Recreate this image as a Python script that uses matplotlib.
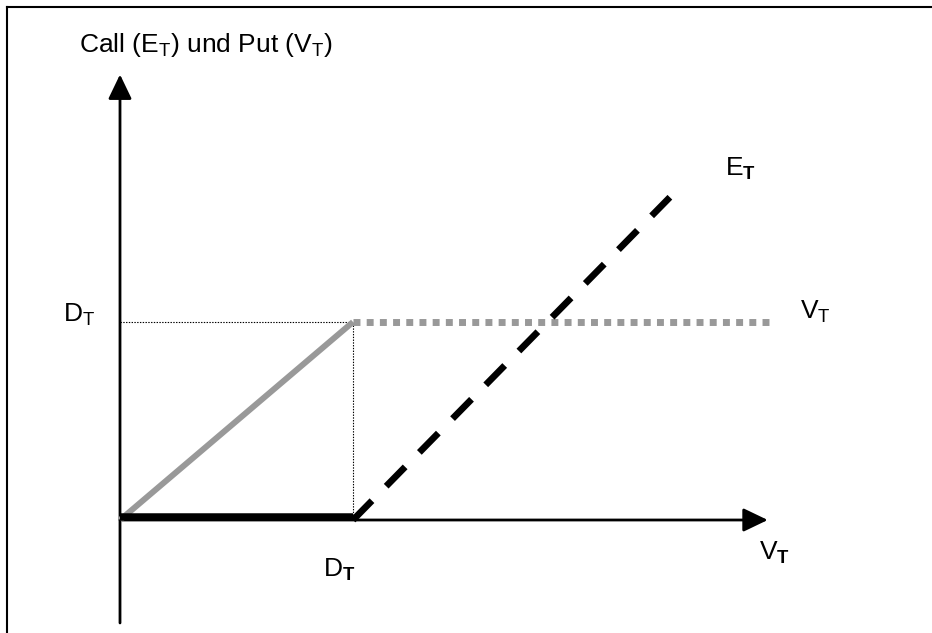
import matplotlib
matplotlib.use('Agg')
import matplotlib.pyplot as plt
from matplotlib import transforms
from matplotlib.lines import Line2D

# Both axes are measured in units of the face value D_T
STRIKE = 1.0

# Call (equity) payoff: flat part and rising part
call_flat_x = [0.0, 1.0]
call_flat_y = [0.0, 0.0]
call_rise_x = [1.0, 2.36]
call_rise_y = [0.0, 1.63]

# Put (debt) payoff: rising part and capped part
put_rise_x = [0.0, 1.0]
put_rise_y = [0.0, 1.0]
put_flat_x = [1.0, 2.80]
put_flat_y = [1.0, 1.0]

# Thin guide lines to the D_T marks
guide_x = [0.0, 1.0, 1.0]
guide_y = [1.0, 1.0, 0.0]

# Axis extents (arrow tips, lower end of the y axis)
X_AXIS_END = 2.78
Y_AXIS_END = 2.25
Y_AXIS_START = -0.52

TITLE = r'Call ($\mathrm{E}_\mathrm{T}$) und Put ($\mathrm{V}_\mathrm{T}$)'
D_LABEL_Y = r'$\mathrm{D}_\mathrm{T}$'
D_LABEL_X = r'$\mathrm{D}_\mathbf{T}$'
V_LABEL_X = r'$\mathrm{V}_\mathbf{T}$'
E_LABEL = r'$\mathrm{E}_\mathbf{T}$'
V_LABEL = r'$\mathrm{V}_\mathrm{T}$'

plt.rcParams['font.family'] = ['Liberation Sans', 'DejaVu Sans']
plt.rcParams['mathtext.fontset'] = 'custom'
plt.rcParams['mathtext.rm'] = 'Liberation Sans'
plt.rcParams['mathtext.it'] = 'Liberation Sans:italic'
plt.rcParams['mathtext.bf'] = 'Liberation Sans:bold'
plt.rcParams['lines.scale_dashes'] = False

W, H, DPI = 932, 633, 100
# origin of the sketch in pixels, and pixels per unit
ORIGIN_PX = (120, 520)
UNIT_PX = (233, 198)


def plot_payoffs():
    fig = plt.figure(figsize=(W / DPI, H / DPI), dpi=DPI)
    ax = fig.add_axes([0, 0, 1, 1])
    ax.set_xlim(-ORIGIN_PX[0] / UNIT_PX[0], (W - ORIGIN_PX[0]) / UNIT_PX[0])
    ax.set_ylim(-(H - ORIGIN_PX[1]) / UNIT_PX[1], ORIGIN_PX[1] / UNIT_PX[1])
    ax.axis('off')

    # frame of the original picture (only top and left edge visible)
    bx, by = 7 / W, 1 - 7 / H
    ax.add_line(Line2D([bx, 1], [by, by], transform=ax.transAxes,
                       color='black', lw=1.5))
    ax.add_line(Line2D([bx, bx], [by, 0], transform=ax.transAxes,
                       color='black', lw=1.5))

    # axes with arrow heads
    arrow = dict(arrowstyle='-|>,head_length=0.75,head_width=0.36',
                 mutation_scale=20, lw=2, color='black',
                 shrinkA=0, shrinkB=0)
    ax.annotate('', xy=(X_AXIS_END, 0), xytext=(0, 0), arrowprops=arrow)
    ax.annotate('', xy=(0, Y_AXIS_END), xytext=(0, Y_AXIS_START),
                arrowprops=arrow)

    # dotted guides
    ax.plot(guide_x, guide_y, color='black', lw=0.8, dashes=(1, 1), zorder=2)

    # put payoff in grey
    ax.plot(put_rise_x, put_rise_y, color='#999999', lw=4.3,
            solid_capstyle='butt', zorder=3)
    ax.plot(put_flat_x, put_flat_y, color='#999999', lw=5,
            dashes=(5, 4.5), dash_capstyle='butt', zorder=3)

    # call payoff in black
    lifted = transforms.offset_copy(ax.transData, fig, x=0, y=3,
                                    units='dots')
    ax.plot(call_flat_x, call_flat_y, color='black', lw=5.4,
            solid_capstyle='butt', transform=lifted, zorder=4)
    ax.plot(call_rise_x, call_rise_y, color='black', lw=4.8,
            dashes=(19.5, 14.6), dash_capstyle='butt', zorder=4)

    fs = 19
    ax.annotate(TITLE, xy=(0, Y_AXIS_END), xytext=(-41, 30),
                textcoords='offset pixels', ha='left', va='center',
                fontsize=fs)
    ax.annotate(D_LABEL_Y, xy=(0, STRIKE), xytext=(-41, 7),
                textcoords='offset pixels', ha='center', va='center',
                fontsize=fs)
    ax.annotate(D_LABEL_X, xy=(STRIKE, 0), xytext=(-14, -50),
                textcoords='offset pixels', ha='center', va='center',
                fontsize=fs)
    ax.annotate(V_LABEL_X, xy=(X_AXIS_END, 0), xytext=(7, -33),
                textcoords='offset pixels', ha='center', va='center',
                fontsize=fs)
    ax.annotate(E_LABEL, xy=(call_rise_x[-1], call_rise_y[-1]),
                xytext=(71, 28), textcoords='offset pixels',
                ha='center', va='center', fontsize=fs)
    ax.annotate(V_LABEL, xy=(put_flat_x[-1], put_flat_y[-1]),
                xytext=(43, 10), textcoords='offset pixels',
                ha='center', va='center', fontsize=fs)

    fig.savefig('out.png', dpi=DPI)


if __name__ == '__main__':
    plot_payoffs()
